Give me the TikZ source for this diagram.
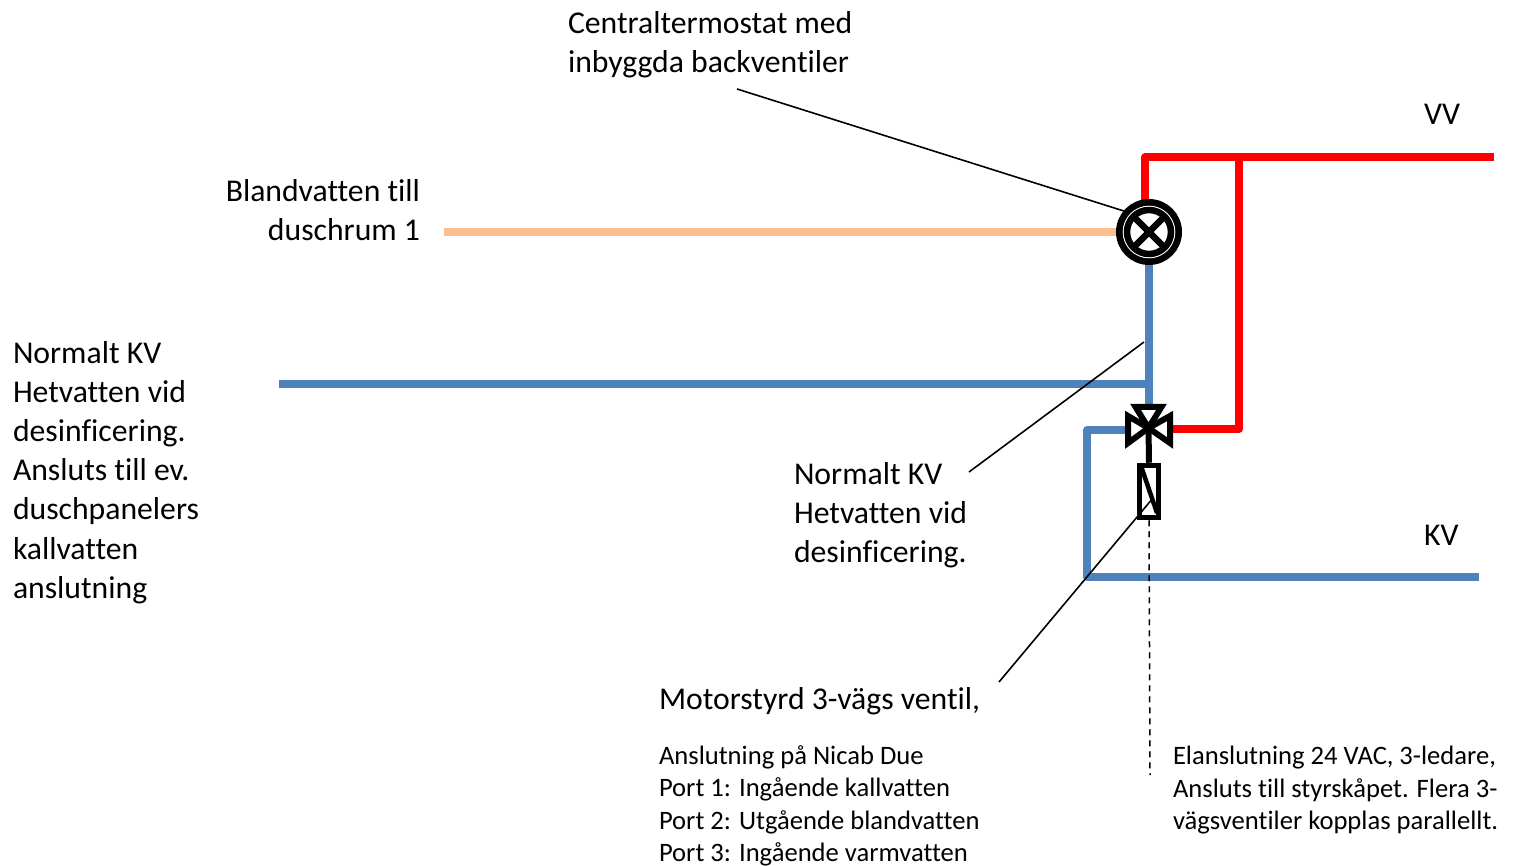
\documentclass[tikz,border=0pt]{standalone}
\usepackage{fontspec}
\setmainfont[Ligatures=NoCommon]{Carlito}
\definecolor{pipeblue}{HTML}{4F81BD}
\definecolor{pipered}{HTML}{FF0000}
\definecolor{pipemix}{HTML}{FAC090}
\tikzset{
  pipe/.style={line width=7.5pt,line join=round},
  leader/.style={line width=1.6pt,black},
  sym/.style={line width=6pt,black,line join=miter,miter limit=10},
  big/.style={inner sep=0pt,outer sep=0pt,align=left,anchor=north west,font=\fontsize{31.7}{39.2}\selectfont},
  small/.style={inner sep=0pt,outer sep=0pt,align=left,anchor=north west,font=\fontsize{26.6}{32.5}\selectfont},
  thermo/.style={circle,draw=black,line width=7pt,fill=white,minimum size=59pt,inner sep=0pt,outer sep=3.5pt}
}
\begin{document}
\begin{tikzpicture}[x=1pt,y=-1pt]
\useasboundingbox (0,0) rectangle (1518,866);
% free ends
\coordinate (redend) at (1494,157);
\coordinate (redcorner) at (1145,157);
\coordinate (redtee) at (1239,157);
\coordinate (redlow) at (1239,429);
\coordinate (vright) at (1173,429);
\coordinate (vleft) at (1125,430);
\coordinate (vtop) at (1149,405);
\coordinate (vc) at (1148.5,428);
\coordinate (blueA) at (279,384);
\coordinate (blueAt) at (1149,384);
\coordinate (blueC1) at (1087,430);
\coordinate (blueC2) at (1087,577);
\coordinate (blueEnd) at (1479,577);
\coordinate (mixEnd) at (444,232);
\coordinate (therm) at (1149,232);
\coordinate (xa) at (1133,216);
\coordinate (xb) at (1165,248);
\coordinate (xc) at (1165,216);
\coordinate (xd) at (1133,248);
% pipes
\draw[pipe,pipered] (1145,205) -- (redcorner) -- (redend);
\draw[pipe,pipered] (redtee) -- (redlow) -- (vright);
\draw[pipe,pipeblue] (1149,262) -- (vtop);
\draw[pipe,pipeblue] (blueA) -- (blueAt);
\draw[pipe,pipeblue] (vleft) -- (blueC1) -- (blueC2) -- (blueEnd);
\draw[pipe,pipemix] (mixEnd) -- (1120,232);
% thermostat
\node[thermo] (tm) at (therm) {};
\draw[white,line width=1.2pt] (therm) circle (25.7pt);
\draw[black,line width=6.5pt] (therm) circle (22pt);
\draw[sym,line width=6.5pt] (xa) -- (xb);
\draw[sym,line width=6.5pt] (xc) -- (xd);
% valve
\draw[sym,fill=white] (vc) -- (1135.6,407) -- (1161.4,407) -- cycle;
\draw[sym,fill=white] (vc) -- (1128,416) -- (1128,443) -- cycle;
\draw[sym,fill=white] (vc) -- (1170,416) -- (1170,443) -- cycle;
\node[draw=black,line width=5.5pt,fill=white,minimum width=19pt,minimum height=52pt,inner sep=0pt,outer sep=2.75pt] (act) at (1149,491.5) {};
\draw[sym] (vc) -- (act.north);
\draw[line width=4.5pt] (1141,466) -- (1157,513);
% leaders
\coordinate (l1a) at (737,89);
\coordinate (l1b) at (1127,212);
\coordinate (l2a) at (969,472);
\coordinate (l2b) at (1144,342);
\coordinate (l3a) at (999,682);
\coordinate (l3b) at (1153,498);
\coordinate (dashEnd) at (1150,775);
\draw[leader] (l1a) -- (l1b);
\draw[leader] (l2a) -- (l2b);
\draw[leader] (l3a) -- (l3b);
\draw[line width=1.5pt,dash pattern=on 6pt off 5pt] (act.south) -- (dashEnd);
% labels
\node[big] (t1) at (568,11) {Centraltermostat med\\inbyggda backventiler};
\node[big,align=right,anchor=north east] (t2) at (420,179.5) {Blandvatten till\\duschrum 1};
\node[big] (t3) at (13,341) {Normalt KV\\Hetvatten vid\\desinficering.\\Ansluts till ev.\\duschpanelers\\kallvatten\\anslutning};
\node[big] (t4) at (794,462) {Normalt KV\\Hetvatten vid\\desinficering.};
\node[big] (t5) at (1424,104) {VV};
\node[big] (t6) at (1424,525) {KV};
\node[big] (t7) at (659,687) {Motorstyrd 3-vägs ventil,};
\node[small] (t8) at (659,745.5) {Anslutning på Nicab Due\\Port 1: Ingående kallvatten\\Port 2: Utgående blandvatten\\Port 3: Ingående varmvatten};
\node[small] (t9) at (1173,746.5) {Elanslutning 24 VAC, 3-ledare,\\Ansluts till styrskåpet. Flera 3-\\vägsventiler kopplas parallellt.};
\end{tikzpicture}
\end{document}
